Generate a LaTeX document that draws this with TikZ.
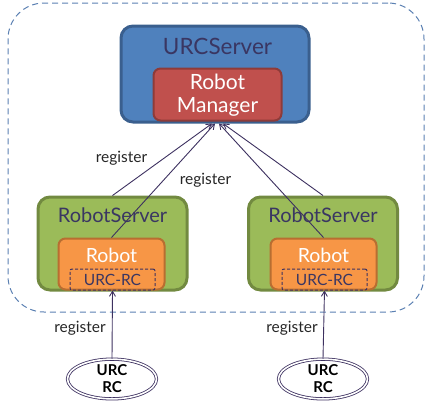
\documentclass[tikz,border=0pt]{standalone}
\usepackage{fontspec}
\setmainfont{Lato}
\usepackage{tikz}
\usetikzlibrary{arrows.meta,positioning,shapes.geometric}

\definecolor{domainline}{HTML}{5B80B2}
\definecolor{urcfill}{HTML}{4F81BD}
\definecolor{urcline}{HTML}{3A5F8E}
\definecolor{mgrfill}{HTML}{C0504D}
\definecolor{mgrline}{HTML}{8E3B39}
\definecolor{rsfill}{HTML}{9BBB59}
\definecolor{rsline}{HTML}{728A40}
\definecolor{robotfill}{HTML}{F79646}
\definecolor{robotline}{HTML}{B86E31}
\definecolor{ink}{HTML}{3D3160}
\definecolor{titleink}{HTML}{3A3662}

\tikzstyle{domainbox} = [rectangle, draw=domainline, line width=1pt, dash pattern=on 6pt off 4pt, rounded corners=36pt, minimum width=416pt, minimum height=309pt]
\tikzstyle{serverbox} = [rectangle, rounded corners=12pt, line width=3pt]
\tikzstyle{innerbox} = [rectangle, rounded corners=7pt, line width=2pt]
\tikzstyle{boxtitle} = [inner sep=0pt, text=titleink, font=\fontsize{20}{22}\selectfont]
\tikzstyle{whitetext} = [inner sep=0pt, text=white, font=\fontsize{19.5}{23}\selectfont, align=center]
\tikzstyle{rcbox} = [rectangle, rounded corners=2pt, draw=ink, line width=1pt, dash pattern=on 3pt off 2pt, minimum width=85pt, minimum height=21pt, inner sep=0pt, text=titleink, font=\fontsize{15.5}{16}\selectfont]
\tikzstyle{client} = [ellipse, draw=ink, double, double distance=1.6pt, line width=0.8pt, minimum width=89pt, minimum height=37pt, inner sep=0pt, align=center, font=\fontsize{15}{17}\selectfont\bfseries]
\tikzstyle{lbl} = [inner sep=0pt, text=black!85, font=\fontsize{15.5}{17}\selectfont]
\tikzstyle{arrow} = [-{Straight Barb[length=5pt,width=6pt]}, draw=ink, line width=0.9pt]

\begin{document}
\begin{tikzpicture}[x=1pt,y=-1pt]
\useasboundingbox (0,0) rectangle (428,400);

% dashed domain around the servers
\node[domainbox] (domain) at (216,157.5) {};

% central server
\node[serverbox, fill=urcfill, draw=urcline, minimum width=188pt, minimum height=96pt] (urcserver) at (215,74) {};
\node[boxtitle, font=\fontsize{22.5}{24}\selectfont] (urctitle) at (217.5,46) {URCServer};
\node[innerbox, fill=mgrfill, draw=mgrline, minimum width=128pt, minimum height=52pt] (manager) at (217.5,94.5) {};
\node[whitetext, font=\fontsize{21}{22.5}\selectfont] (mgrtext) at (217.5,95) {Robot\\Manager};

% robot servers
\node[serverbox, fill=rsfill, draw=rsline, minimum width=149pt, minimum height=93pt] (rsleft) at (112.5,243.5) {};
\node[boxtitle] (rslefttitle) at (112.5,215) {RobotServer};
\node[innerbox, fill=robotfill, draw=robotline, minimum width=106pt, minimum height=51pt] (robotleft) at (111.5,264) {};
\node[whitetext] (robotlefttext) at (111.5,255) {Robot};
\node[rcbox] (urcrcleft) at (112.5,279.5) {URC-RC};

\node[serverbox, fill=rsfill, draw=rsline, minimum width=149pt, minimum height=93pt] (rsright) at (323,243.5) {};
\node[boxtitle] (rsrighttitle) at (323,215) {RobotServer};
\node[innerbox, fill=robotfill, draw=robotline, minimum width=106pt, minimum height=51pt] (robotright) at (323.5,264) {};
\node[whitetext] (robotrighttext) at (323.5,255) {Robot};
\node[rcbox] (urcrcright) at (324.5,279.5) {URC-RC};

% remote clients
\node[client] (rcleft) at (112,379) {URC\\RC};
\node[client] (rcright) at (323,379) {URC\\RC};

% registrations
\draw[arrow] (rsleft.north) -- ([xshift=-3pt]urcserver.south);
\draw[arrow] (robotleft.north) -- ([xshift=0pt]urcserver.south);
\draw[arrow] (robotright.north) -- ([xshift=4pt]urcserver.south);
\draw[arrow] (rsright.north) -- ([xshift=8pt]urcserver.south);
\node[lbl] (regleft) at (121.5,158) {register};
\node[lbl] (regmid) at (205.5,180) {register};

\draw[arrow] (rcleft.north) -- (urcrcleft.south);
\draw[arrow] (rcright.north) -- (urcrcright.south);
\node[lbl] (regrcleft) at (80,328) {register};
\node[lbl] (regrcright) at (292,328) {register};
\end{tikzpicture}
\end{document}
